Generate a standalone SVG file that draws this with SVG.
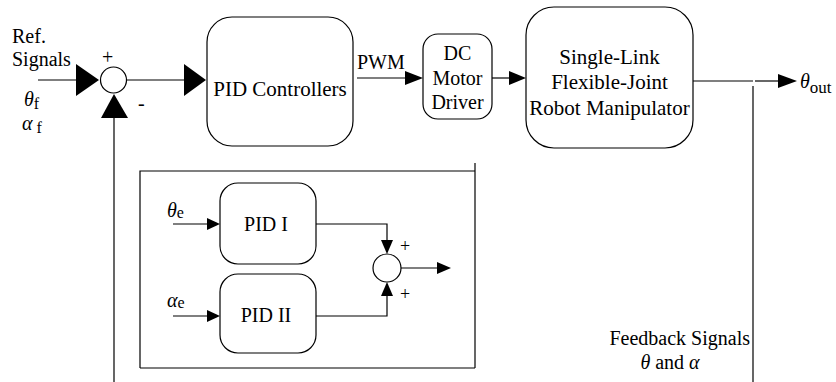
<svg xmlns="http://www.w3.org/2000/svg" width="836" height="382" viewBox="0 0 836 382" font-family="'Liberation Serif', 'Times New Roman', serif">
<defs>
<style>
.box{fill:#fff;stroke:#000;stroke-width:1.2}
.ln{fill:none;stroke:#000;stroke-width:1.2}
.ah{fill:#000;stroke:none}
.t{font-family:'Liberation Serif','Times New Roman',serif;font-size:20px;fill:#000}
.s{font-family:'Liberation Serif','Times New Roman',serif;font-size:20px;fill:#000}
.g{font-style:italic}
</style>
</defs>
<g id="connectors">
<line class="ln" x1="38" y1="80" x2="78" y2="80"/>
<polygon class="ah" points="76,64 99,80 76,96"/>
<line class="ln" x1="127" y1="80" x2="186" y2="80"/>
<polygon class="ah" points="184,64 206,80 184,96"/>
<line class="ln" x1="114" y1="116" x2="114" y2="382"/>
<polygon class="ah" points="101,118 114,94 128,118"/>
<line class="ln" x1="357" y1="78" x2="407" y2="78"/>
<polygon class="ah" points="405,71 423,78 405,85"/>
<line class="ln" x1="492" y1="78" x2="511" y2="78"/>
<polygon class="ah" points="509,71 526,78 509,85"/>
<line class="ln" x1="693" y1="81" x2="753" y2="81"/>
<line class="ln" x1="755" y1="81" x2="780" y2="81"/>
<polygon class="ah" points="778,74 797,81 778,88"/>
<line class="ln" x1="753" y1="86" x2="753" y2="382"/>
<polyline class="ln" points="140,368 140,171 475,171"/>
<line class="ln" x1="140" y1="368" x2="475" y2="368"/>
<line class="ln" x1="475" y1="163" x2="475" y2="368"/>
<line class="ln" x1="173" y1="224" x2="209" y2="224"/>
<polygon class="ah" points="207,218 220,224 207,230"/>
<line class="ln" x1="173" y1="316" x2="209" y2="316"/>
<polygon class="ah" points="207,310 220,316 207,322"/>
<polyline class="ln" points="316,224 387,224 387,242"/>
<polygon class="ah" points="381,240 387,254 393,240"/>
<polyline class="ln" points="316,316 387,316 387,294"/>
<polygon class="ah" points="381,296 387,282 393,296"/>
<line class="ln" x1="401" y1="268" x2="439" y2="268"/>
<polygon class="ah" points="437,262 451,268 437,274"/>
</g>
<g id="sum1">
<circle class="box" cx="113.5" cy="80" r="13"/>
<text class="t" x="102" y="64">+</text>
<text class="t" x="138" y="110">-</text>
</g>
<g id="ref">
<text class="t" x="12" y="43">Ref.</text>
<text class="t" x="12" y="66">Signals</text>
<text class="t" x="24" y="106"><tspan class="g">θ</tspan><tspan font-size="16" dy="3">f</tspan></text>
<text class="t" x="22" y="130"><tspan class="g">α</tspan><tspan font-size="16" dx="4" dy="3">f</tspan></text>
</g>
<g id="pid">
<rect class="box" x="207" y="17" width="146" height="129" rx="25"/>
<text class="t" x="280" y="96" text-anchor="middle" style="font-size:21px">PID Controllers</text>
</g>
<g id="pwm"><text class="t" x="357" y="69">PWM</text></g>
<g id="dc">
<rect class="box" x="423" y="34" width="69" height="85" rx="15"/>
<text class="t" x="457.5" y="60" text-anchor="middle">DC</text>
<text class="t" x="457.5" y="85" text-anchor="middle">Motor</text>
<text class="t" x="457.5" y="109" text-anchor="middle">Driver</text>
</g>
<g id="robot">
<rect class="box" x="526" y="7" width="167" height="141" rx="28"/>
<text class="t" x="609.5" y="64" text-anchor="middle" style="font-size:21px">Single-Link</text>
<text class="t" x="609.5" y="89" text-anchor="middle" style="font-size:21px">Flexible-Joint</text>
<text class="t" x="609.5" y="115" text-anchor="middle" style="font-size:21px">Robot Manipulator</text>
</g>
<g id="out"><text class="t" x="800" y="88"><tspan class="g">θ</tspan><tspan font-size="17" dy="5">out</tspan></text></g>
<g id="feedback">
<text class="t" x="750" y="345" text-anchor="end">Feedback Signals</text>
<text class="t" x="670" y="369" text-anchor="middle"><tspan class="g">θ</tspan> and <tspan class="g">α</tspan></text>
</g>
<g id="pid1">
<rect class="box" x="220" y="183" width="96" height="81" rx="18"/>
<text class="s" x="266" y="231" text-anchor="middle">PID I</text>
</g>
<g id="pid2">
<rect class="box" x="220" y="274" width="96" height="79" rx="18"/>
<text class="s" x="266" y="322" text-anchor="middle">PID II</text>
</g>
<g id="inlabels">
<text class="t" x="167" y="217"><tspan class="g">θ</tspan><tspan font-size="16" dy="1">e</tspan></text>
<text class="t" x="167" y="307"><tspan class="g">α</tspan><tspan font-size="16" dy="1">e</tspan></text>
</g>
<g id="sum2">
<circle class="box" cx="387" cy="268" r="14"/>
<text class="s" x="400" y="252" style="font-size:18px">+</text>
<text class="s" x="400" y="300" style="font-size:18px">+</text>
</g>
</svg>
